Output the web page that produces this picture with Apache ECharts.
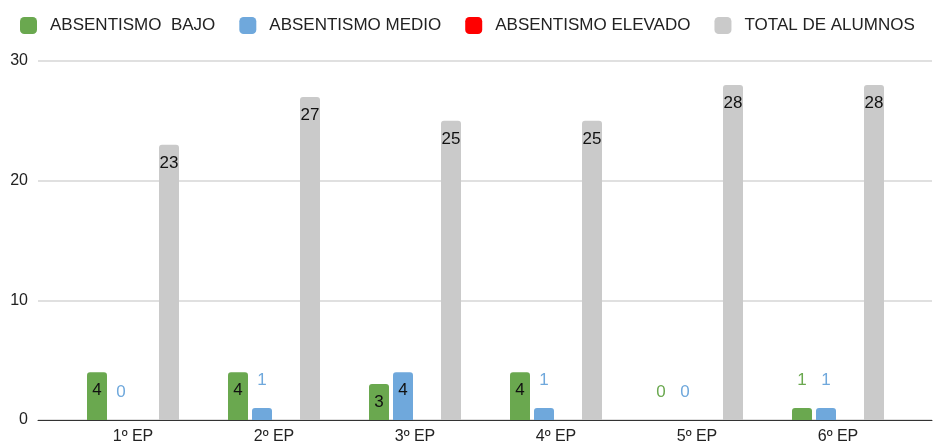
<!DOCTYPE html>
<html>
<head>
<meta charset="utf-8">
<script src="https://cdn.jsdelivr.net/npm/echarts@6/dist/echarts.min.js"></script>
<style>
  html, body { margin: 0; padding: 0; background: #fff; }
  #chart { width: 933px; height: 447px; }
</style>
</head>
<body>
<div id="chart"></div>
<script>
const categories = ['1º EP', '2º EP', '3º EP', '4º EP', '5º EP', '6º EP']
const bajo = [4, 4, 3, 4, 0, 1]
const medio = [0, 1, 4, 1, 0, 1]
const elevado = [0, 0, 0, 0, 0, 0]
const total = [23, 27, 25, 25, 28, 28]
const yTicks = { min: 0, max: 30, interval: 10 }

const FONT = '"Liberation Sans", Arial, sans-serif'
const GREEN = '#6aa84f', BLUE = '#6fa8dc', RED = '#ff0000', GRAY = '#cacaca'

// short bars get their label above, in the series colour; tall ones inside in black
const withLabels = (values, color) => values.map(v => ({
  value: v,
  label: v < 2
    ? { show: true, position: 'top', distance: 19, color }
    : { show: true, position: 'insideTop', distance: 10, color: '#111' },
}))

const barSeries = (name, color, data, showLabel = true) => ({
  name, type: 'bar', xAxisIndex: 1, yAxisIndex: 1,
  barWidth: 20, barGap: '20%',
  itemStyle: { color, borderRadius: [3, 3, 0, 0] },
  label: { show: showLabel, fontSize: 17, fontFamily: FONT },
  data: showLabel ? withLabels(data, color) : data,
})

const chart = echarts.init(document.getElementById('chart'))
chart.setOption({
  animation: false,
  textStyle: { fontFamily: FONT },
  legend: {
    left: 15, top: 12,
    itemWidth: 17, itemHeight: 17, itemGap: 24,
    icon: 'roundRect',
    textStyle: { fontSize: 17, color: '#222', fontFamily: FONT, padding: [0, 0, 0, 8] },
    data: ['ABSENTISMO  BAJO', 'ABSENTISMO MEDIO', 'ABSENTISMO ELEVADO', 'TOTAL DE ALUMNOS'],
  },
  grid: [
    { left: 38, right: 1, top: 61, bottom: 27 },
    { left: 62.5, right: 24.5, top: 61, bottom: 27 },
  ],
  xAxis: [
    {
      gridIndex: 0, type: 'value', min: 0, max: 1,
      axisLine: { show: true, lineStyle: { color: '#333', width: 1 } },
      axisTick: { show: false }, axisLabel: { show: false }, splitLine: { show: false },
    },
    {
      gridIndex: 1, type: 'category', data: categories,
      axisLine: { show: false }, axisTick: { show: false },
      axisLabel: { fontSize: 16, color: '#222', margin: 9, fontFamily: FONT },
    },
  ],
  yAxis: [
    {
      gridIndex: 0, type: 'value', ...yTicks,
      axisLine: { show: false }, axisTick: { show: false },
      axisLabel: { fontSize: 16, color: '#222', margin: 10, fontFamily: FONT },
      splitLine: { lineStyle: { color: '#d6d6d6', width: 1.5 } },
    },
    {
      gridIndex: 1, type: 'value', ...yTicks, show: false,
      splitLine: { show: false },
    },
  ],
  series: [
    barSeries('ABSENTISMO  BAJO', GREEN, bajo),
    barSeries('ABSENTISMO MEDIO', BLUE, medio),
    barSeries('ABSENTISMO ELEVADO', RED, elevado, false),
    barSeries('TOTAL DE ALUMNOS', GRAY, total),
  ],
})
</script>
</body>
</html>
